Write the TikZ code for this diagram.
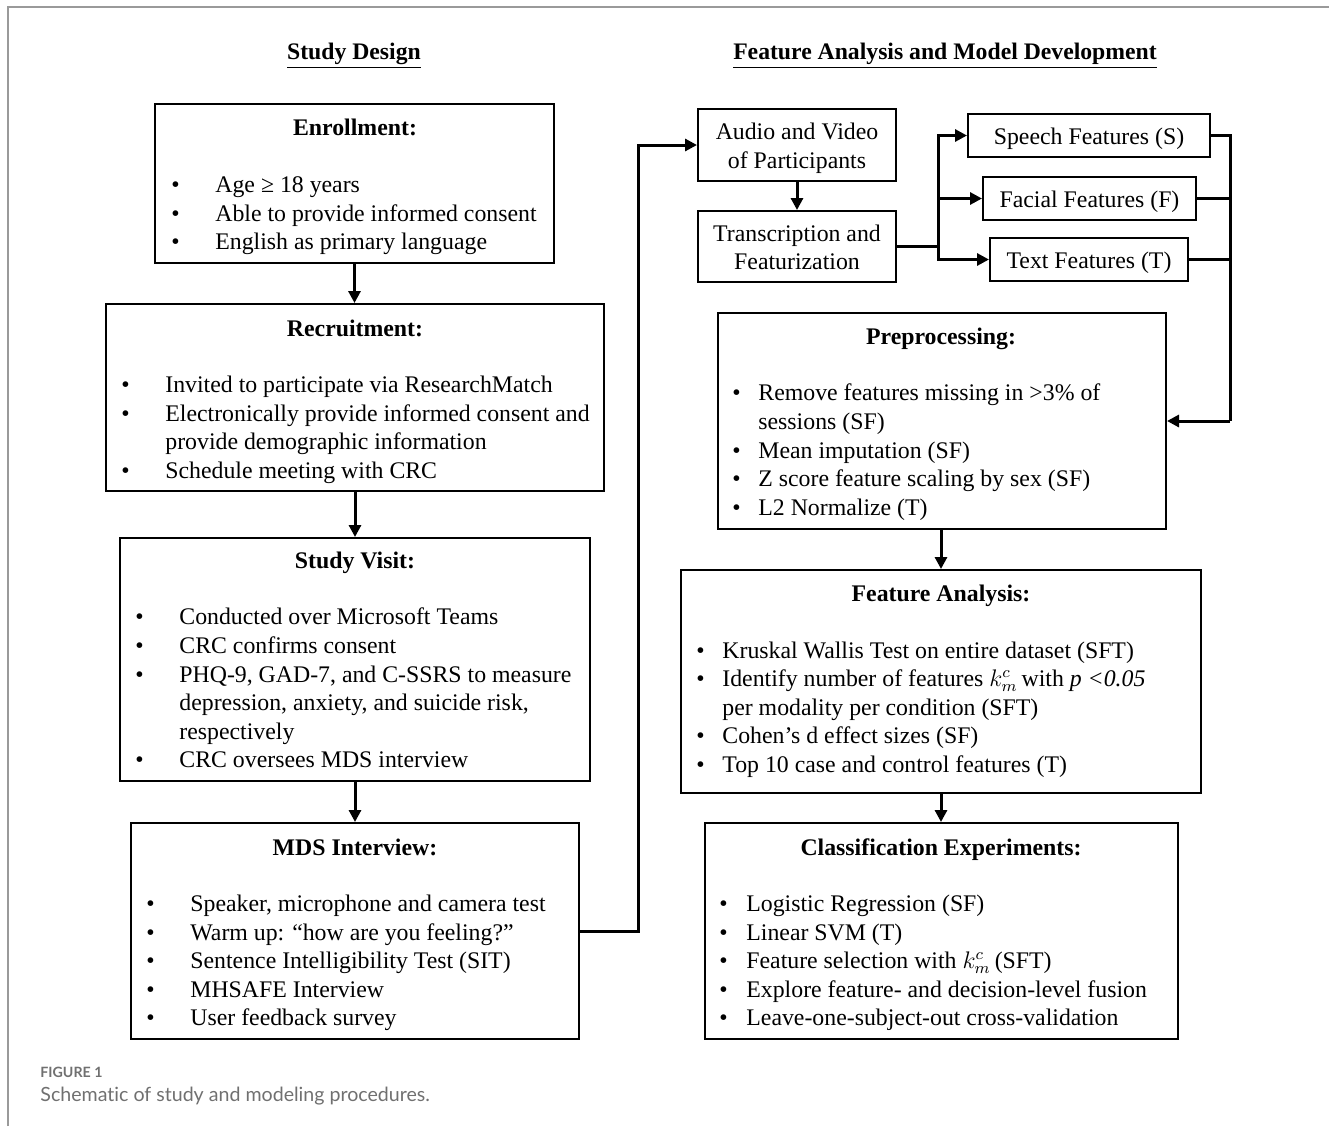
\documentclass[tikz,border=0pt]{standalone}
\usepackage{fontspec}
\setmainfont{Liberation Serif}
\newfontfamily\capfont[Ligatures=NoCommon]{Lato}
\usetikzlibrary{arrows.meta,calc}
\newcommand\bodyfont{\fontsize{11.9}{14}\selectfont}
\newcommand\bitem[5]{\node[tl] (#1-b) at (#2,#4) {\textbullet}; \node[tl] (#1) at (#3,#4) {#5};}
\definecolor{framegray}{HTML}{9A9A9A}
\definecolor{capgray}{HTML}{707070}
\tikzset{
  box/.style={draw, line width=1pt, inner sep=0pt},
  conn/.style={line width=1.5pt},
  arr/.style={conn, -{Triangle[length=6pt,width=6pt]}},
  tl/.style={anchor=base west, inner sep=0pt, font=\bodyfont},
  ttl/.style={anchor=base, inner sep=0pt, font=\bodyfont\bfseries},
  ctr/.style={anchor=base, inner sep=0pt, font=\bodyfont},
  hdr/.style={anchor=base, inner sep=0pt, font=\fontsize{11.85}{14}\selectfont\bfseries},
}
\begin{document}
\begin{tikzpicture}[x=0.5pt,y=-0.5pt]
\useasboundingbox (0,0) rectangle (1329,1126);
% frame
\draw[framegray, line width=1pt] (8,1126) -- (8,7) -- (1329,7);

% headers
\node[hdr] (h1) at (354,59) {\underline{Study Design}};
\node[hdr] (h2) at (945,59) {\underline{Feature Analysis and Model Development}};

% ---------- left column ----------
\node[box, minimum width=199.5pt, minimum height=79.5pt] (enr) at (354.5,183.5) {};
\node[ttl] (enr-t) at (355,135) {Enrollment:};
\bitem{e1}{171}{215}{192}{Age ≥ 18 years}
\bitem{e2}{171}{215}{221}{Able to provide informed consent}
\bitem{e3}{171}{215}{249}{English as primary language}

\node[box, minimum width=249pt, minimum height=93.5pt] (rec) at (355,397.5) {};
\node[ttl] (rec-t) at (355,336) {Recruitment:};
\bitem{r1}{121}{165}{392}{Invited to participate via ResearchMatch}
\bitem{r2}{121}{165}{421}{Electronically provide informed consent and}
\node[tl] (r2b) at (165,449) {provide demographic information};
\bitem{r3}{121}{165}{478}{Schedule meeting with CRC}

\node[box, minimum width=235pt, minimum height=121.5pt] (vis) at (355,659.5) {};
\node[ttl] (vis-t) at (355,568) {Study Visit:};
\bitem{v1}{135}{179}{624}{Conducted over Microsoft Teams}
\bitem{v2}{135}{179}{653}{CRC confirms consent}
\bitem{v3}{135}{179}{682}{PHQ-9, GAD-7, and C-SSRS to measure}
\node[tl] (v3b) at (179,710) {depression, anxiety, and suicide risk,};
\node[tl] (v3c) at (179,739) {respectively};
\bitem{v4}{135}{179}{767}{CRC oversees MDS interview}

\node[box, minimum width=224pt, minimum height=108pt] (mds) at (355,931) {};
\node[ttl] (mds-t) at (355,855) {MDS Interview:};
\bitem{m1}{146}{190}{911}{Speaker, microphone and camera test}
\bitem{m2}{146}{190}{940}{Warm up: “how are you feeling?”}
\bitem{m3}{146}{190}{968}{Sentence Intelligibility Test (SIT)}
\bitem{m4}{146}{190}{997}{MHSAFE Interview}
\bitem{m5}{146}{190}{1025}{User feedback survey}

% ---------- right column ----------
\node[box, minimum width=99pt, minimum height=36pt] (aud) at (797,145) {};
\node[ctr] (aud-1) at (797,139) {Audio and Video};
\node[ctr] (aud-2) at (797,168) {of Participants};

\node[box, minimum width=99pt, minimum height=35.5pt] (tra) at (797,246.5) {};
\node[ctr] (tra-1) at (797,241) {Transcription and};
\node[ctr] (tra-2) at (797,269) {Featurization};

\node[box, minimum width=121pt, minimum height=21.5pt] (spe) at (1089,135.5) {};
\node[ctr] (spe-t) at (1089,144) {Speech Features (S)};
\node[box, minimum width=106.5pt, minimum height=21.5pt] (fac) at (1089.5,198.5) {};
\node[ctr] (fac-t) at (1089.5,207) {Facial Features (F)};
\node[box, minimum width=99pt, minimum height=21.5pt] (txt) at (1089,259.5) {};
\node[ctr] (txt-t) at (1089,268) {Text Features (T)};

\node[box, minimum width=224pt, minimum height=108pt] (pre) at (942,421) {};
\node[ttl] (pre-t) at (941,344) {Preprocessing:};
\bitem{p1}{732}{758}{400}{Remove features missing in >3\% of}
\node[tl] (p1b) at (758,429) {sessions (SF)};
\bitem{p2}{732}{758}{458}{Mean imputation (SF)}
\bitem{p3}{732}{758}{486}{Z score feature scaling by sex (SF)}
\bitem{p4}{732}{758}{515}{L2 Normalize (T)}

\node[box, minimum width=260pt, minimum height=111.5pt] (fea) at (941,681.5) {};
\node[ttl] (fea-t) at (941,601) {Feature Analysis:};
\bitem{f1}{696}{722}{658}{Kruskal Wallis Test on entire dataset (SFT)}
\bitem{f2}{696}{722}{686}{Identify number of features $k^{c}_{m}$\thinspace with \textit{p <0.05}}
\node[tl] (f2b) at (722,715) {per modality per condition (SFT)};
\bitem{f3}{696}{722}{743}{Cohen’s d effect sizes (SF)}
\bitem{f4}{696}{722}{772}{Top 10 case and control features (T)}

\node[box, minimum width=236.5pt, minimum height=108pt] (cla) at (941.5,931) {};
\node[ttl] (cla-t) at (941,855) {Classification Experiments:};
\bitem{c1}{719}{746}{911}{Logistic Regression (SF)}
\bitem{c2}{719}{746}{940}{Linear SVM (T)}
\bitem{c3}{719}{746}{968}{Feature selection with $k^{c}_{m}$\thinspace (SFT)}
\bitem{c4}{719}{746}{997}{Explore feature- and decision-level fusion}
\bitem{c5}{719}{746}{1025}{Leave-one-subject-out cross-validation}

% ---------- connectors ----------
\draw[arr] (enr.south) -- (enr.south |- rec.north);
\draw[arr] (rec.south) -- (rec.south |- vis.north);
\draw[arr] (vis.south) -- (vis.south |- mds.north);

\coordinate (up) at (638,931);
\draw[arr] (mds.east) -- (up) |- (aud.west);

\draw[arr] (aud.south) -- (tra.north);

\coordinate (br) at (938,246.5);
\draw[conn] (tra.east) -- (br);
\draw[arr] (br) |- (spe.west);
\draw[arr] (br) |- (fac.west);
\draw[arr] (br) |- (txt.west);

\coordinate (mg) at (1230,421);
\draw[conn] (spe.east) -| (mg);
\draw[conn] (fac.east) -- (fac.east -| mg);
\draw[conn] (txt.east) -- (txt.east -| mg);
\draw[arr] (mg) -- (pre.east);

\draw[arr] (pre.south -| fea.north) -- (fea.north);
\draw[arr] (fea.south) -- (fea.south |- cla.north);

% caption
\node[anchor=base west, inner sep=0pt, font=\capfont\bfseries\fontsize{7.1}{8}\selectfont, text=capgray] (cap1) at (40,1077) {FIGURE 1};
\node[anchor=base west, inner sep=0pt, font=\capfont\fontsize{9.8}{11}\selectfont, text=capgray] (cap2) at (40,1101) {Schematic of study and modeling procedures.};
\end{tikzpicture}
\end{document}
